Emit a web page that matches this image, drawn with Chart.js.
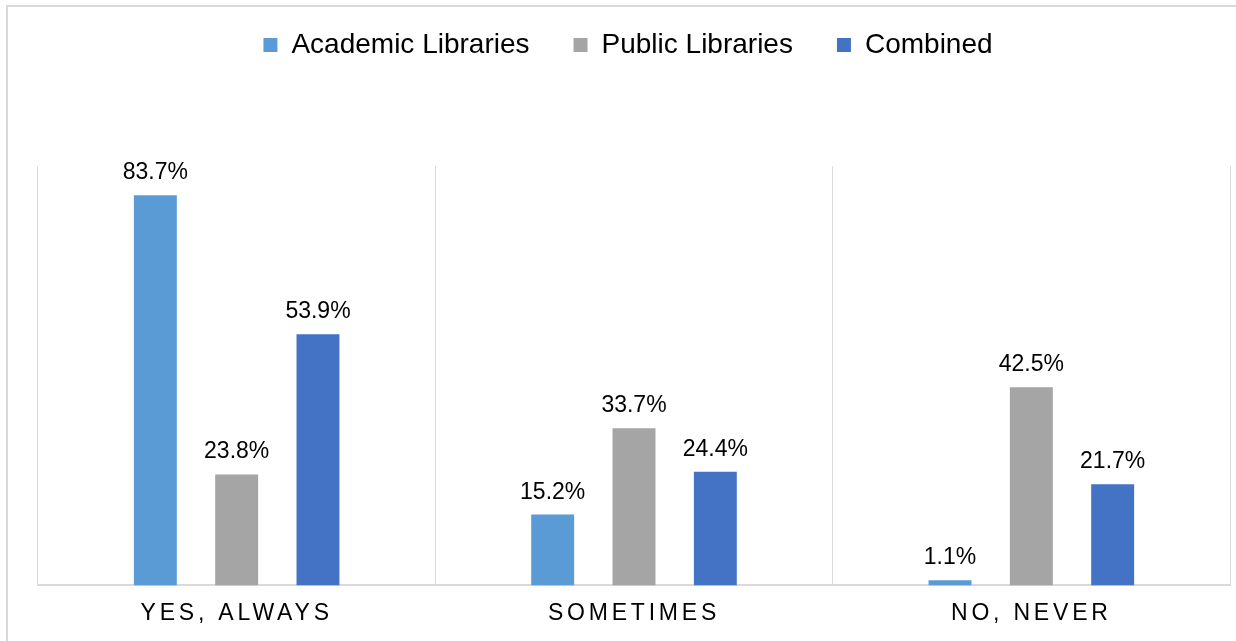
<!DOCTYPE html>
<html>
<head>
<meta charset="utf-8">
<script src="https://cdn.jsdelivr.net/npm/chart.js@4/dist/chart.umd.min.js"></script>
<style>
  html, body { margin: 0; padding: 0; background: #fff; overflow: hidden; }
  #frame { position: absolute; left: 6px; top: 5px; width: 1300px; height: 700px;
           border-left: 2px solid #d9d9d9; border-top: 2px solid #d9d9d9; }
  #wrap { position: absolute; left: 0; top: 0; width: 1236px; height: 641px; }
</style>
</head>
<body>
<div id="frame"></div>
<div id="wrap"><canvas id="c" width="1236" height="641"></canvas></div>
<script>
const categories = ['YES, ALWAYS', 'SOMETIMES', 'NO, NEVER'];
const seriesNames = ['Academic Libraries', 'Public Libraries', 'Combined'];
const academic = [83.7, 15.2, 1.1];
const publicLib = [23.8, 33.7, 42.5];
const combined = [53.9, 24.4, 21.7];
const seriesColors = ['#5B9BD5', '#A5A5A5', '#4472C4'];
const yMax = 90;

const FONT = "'Liberation Sans', Arial, sans-serif";

const legendSpace = {
  id: 'legendSpace',
  beforeInit(chart) {
    const lg = chart.legend;
    const origFit = lg.fit;
    lg.fit = function () {
      origFit.call(this);
      this.height = 145;
    };
    const origDraw = lg.draw;
    lg.draw = function () {
      const ctx = this.ctx;
      ctx.save();
      ctx.translate(-6, -34);
      origDraw.call(this);
      ctx.restore();
    };
  }
};

const spacedTicks = {
  id: 'spacedTicks',
  beforeDraw(chart) {
    const sc = chart.scales.x;
    if (sc && !sc._spacedPatched) {
      const orig = sc.drawLabels;
      sc.drawLabels = function (area) {
        const ctx = this.ctx;
        ctx.save();
        ctx.letterSpacing = '3.8px';
        orig.call(this, area);
        ctx.restore();
      };
      sc._spacedPatched = true;
    }
  }
};

const valueLabels = {
  id: 'valueLabels',
  afterDatasetsDraw(chart) {
    const ctx = chart.ctx;
    ctx.save();
    ctx.font = '23px ' + FONT;
    ctx.fillStyle = '#000';
    ctx.textAlign = 'center';
    ctx.textBaseline = 'alphabetic';
    chart.data.datasets.forEach((ds, i) => {
      const meta = chart.getDatasetMeta(i);
      meta.data.forEach((bar, j) => {
        ctx.fillText(ds.data[j].toFixed(1) + '%', bar.x, bar.y - 16);
      });
    });
    ctx.restore();
  }
};

new Chart(document.getElementById('c'), {
  type: 'bar',
  data: {
    labels: categories,
    datasets: [
      { label: seriesNames[0], data: academic, backgroundColor: seriesColors[0] },
      { label: seriesNames[1], data: publicLib, backgroundColor: seriesColors[1] },
      { label: seriesNames[2], data: combined, backgroundColor: seriesColors[2] }
    ]
  },
  options: {
    responsive: false,
    animation: false,
    devicePixelRatio: 1,
    layout: { padding: { left: 38, right: 6, top: 21, bottom: 0 } },
    datasets: { bar: { categoryPercentage: 0.614, barPercentage: 0.528 } },
    plugins: {
      legend: {
        position: 'top',
        labels: {
          boxWidth: 14, boxHeight: 14, padding: 44,
          color: '#000',
          font: { family: FONT, size: 28 }
        }
      },
      tooltip: { enabled: false }
    },
    scales: {
      x: {
        offset: true,
        grid: { display: true, color: '#d9d9d9', lineWidth: 1, drawTicks: false, offset: true },
        border: { display: true, color: '#d9d9d9', width: 2 },
        ticks: { color: '#000', padding: 14, font: { family: FONT, size: 23 } }
      },
      y: {
        display: false,
        min: 0, max: yMax
      }
    }
  },
  plugins: [legendSpace, spacedTicks, valueLabels]
});
</script>
</body>
</html>
